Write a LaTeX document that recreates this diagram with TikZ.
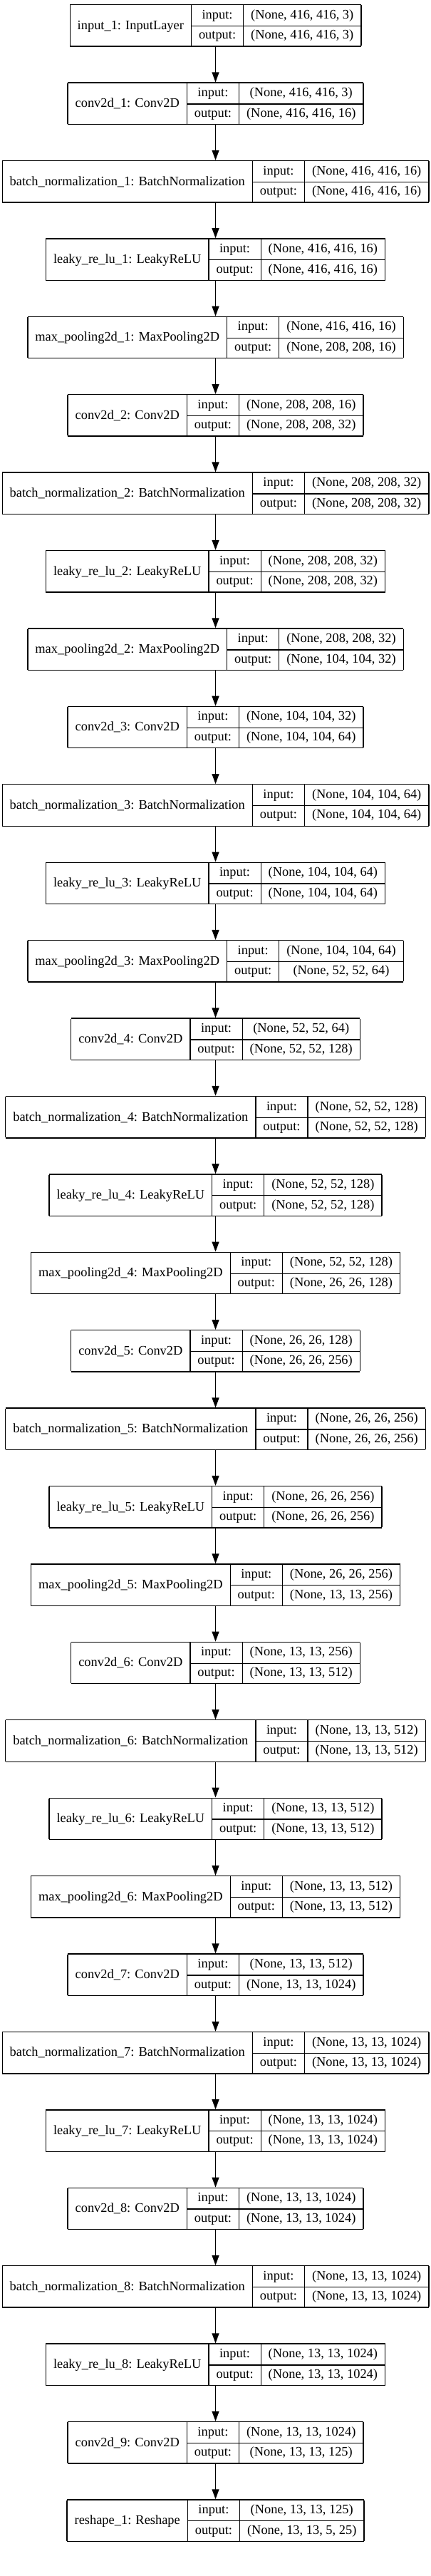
\documentclass[tikz,border=0pt]{standalone}
\usepackage{fontspec}
\setmainfont{Liberation Serif}
\usetikzlibrary{positioning,arrows.meta}

% table of one layer: name | input/output | shapes
\setlength\tabcolsep{7.9pt}
\setlength\arrayrulewidth{1pt}
\renewcommand\arraystretch{0.5}
\newcommand\rowstrut{\rule[-7.2pt]{0pt}{21.4pt}}
\newcommand\layer[3]{%
  \begin{tabular}{|c|c|c|}\hline
    \raisebox{-11.2pt}[0pt][0pt]{#1} & \rowstrut input: & #2 \\ \cline{2-3}
     & \rowstrut output: & #3 \\ \hline
  \end{tabular}}

\tikzset{
  layer/.style={inner sep=0pt, outer sep=0pt, font=\fontsize{13.8pt}{16pt}\selectfont},
  arrow/.style={line width=1pt, -{Triangle[length=10.5pt,width=7.5pt]}},
}

\begin{document}
\begin{tikzpicture}[node distance=37.26pt]

  \path[fill=white] (0,0) rectangle (453.75pt,-2711.25pt);

  % Define nodes
  \node[layer, anchor=north] (l1) at (226.9pt,-4.5pt) {\layer{input\_1: InputLayer}{(None, 416, 416, 3)}{(None, 416, 416, 3)}};
  \node[layer, below=of l1]  (l2)  {\layer{conv2d\_1: Conv2D}{(None, 416, 416, 3)}{(None, 416, 416, 16)}};
  \node[layer, below=of l2]  (l3)  {\layer{batch\_normalization\_1: BatchNormalization}{(None, 416, 416, 16)}{(None, 416, 416, 16)}};
  \node[layer, below=of l3]  (l4)  {\layer{leaky\_re\_lu\_1: LeakyReLU}{(None, 416, 416, 16)}{(None, 416, 416, 16)}};
  \node[layer, below=of l4]  (l5)  {\layer{max\_pooling2d\_1: MaxPooling2D}{(None, 416, 416, 16)}{(None, 208, 208, 16)}};
  \node[layer, below=of l5]  (l6)  {\layer{conv2d\_2: Conv2D}{(None, 208, 208, 16)}{(None, 208, 208, 32)}};
  \node[layer, below=of l6]  (l7)  {\layer{batch\_normalization\_2: BatchNormalization}{(None, 208, 208, 32)}{(None, 208, 208, 32)}};
  \node[layer, below=of l7]  (l8)  {\layer{leaky\_re\_lu\_2: LeakyReLU}{(None, 208, 208, 32)}{(None, 208, 208, 32)}};
  \node[layer, below=of l8]  (l9)  {\layer{max\_pooling2d\_2: MaxPooling2D}{(None, 208, 208, 32)}{(None, 104, 104, 32)}};
  \node[layer, below=of l9]  (l10) {\layer{conv2d\_3: Conv2D}{(None, 104, 104, 32)}{(None, 104, 104, 64)}};
  \node[layer, below=of l10] (l11) {\layer{batch\_normalization\_3: BatchNormalization}{(None, 104, 104, 64)}{(None, 104, 104, 64)}};
  \node[layer, below=of l11] (l12) {\layer{leaky\_re\_lu\_3: LeakyReLU}{(None, 104, 104, 64)}{(None, 104, 104, 64)}};
  \node[layer, below=of l12] (l13) {\layer{max\_pooling2d\_3: MaxPooling2D}{(None, 104, 104, 64)}{(None, 52, 52, 64)}};
  \node[layer, below=of l13] (l14) {\layer{conv2d\_4: Conv2D}{(None, 52, 52, 64)}{(None, 52, 52, 128)}};
  \node[layer, below=of l14] (l15) {\layer{batch\_normalization\_4: BatchNormalization}{(None, 52, 52, 128)}{(None, 52, 52, 128)}};
  \node[layer, below=of l15] (l16) {\layer{leaky\_re\_lu\_4: LeakyReLU}{(None, 52, 52, 128)}{(None, 52, 52, 128)}};
  \node[layer, below=of l16] (l17) {\layer{max\_pooling2d\_4: MaxPooling2D}{(None, 52, 52, 128)}{(None, 26, 26, 128)}};
  \node[layer, below=of l17] (l18) {\layer{conv2d\_5: Conv2D}{(None, 26, 26, 128)}{(None, 26, 26, 256)}};
  \node[layer, below=of l18] (l19) {\layer{batch\_normalization\_5: BatchNormalization}{(None, 26, 26, 256)}{(None, 26, 26, 256)}};
  \node[layer, below=of l19] (l20) {\layer{leaky\_re\_lu\_5: LeakyReLU}{(None, 26, 26, 256)}{(None, 26, 26, 256)}};
  \node[layer, below=of l20] (l21) {\layer{max\_pooling2d\_5: MaxPooling2D}{(None, 26, 26, 256)}{(None, 13, 13, 256)}};
  \node[layer, below=of l21] (l22) {\layer{conv2d\_6: Conv2D}{(None, 13, 13, 256)}{(None, 13, 13, 512)}};
  \node[layer, below=of l22] (l23) {\layer{batch\_normalization\_6: BatchNormalization}{(None, 13, 13, 512)}{(None, 13, 13, 512)}};
  \node[layer, below=of l23] (l24) {\layer{leaky\_re\_lu\_6: LeakyReLU}{(None, 13, 13, 512)}{(None, 13, 13, 512)}};
  \node[layer, below=of l24] (l25) {\layer{max\_pooling2d\_6: MaxPooling2D}{(None, 13, 13, 512)}{(None, 13, 13, 512)}};
  \node[layer, below=of l25] (l26) {\layer{conv2d\_7: Conv2D}{(None, 13, 13, 512)}{(None, 13, 13, 1024)}};
  \node[layer, below=of l26] (l27) {\layer{batch\_normalization\_7: BatchNormalization}{(None, 13, 13, 1024)}{(None, 13, 13, 1024)}};
  \node[layer, below=of l27] (l28) {\layer{leaky\_re\_lu\_7: LeakyReLU}{(None, 13, 13, 1024)}{(None, 13, 13, 1024)}};
  \node[layer, below=of l28] (l29) {\layer{conv2d\_8: Conv2D}{(None, 13, 13, 1024)}{(None, 13, 13, 1024)}};
  \node[layer, below=of l29] (l30) {\layer{batch\_normalization\_8: BatchNormalization}{(None, 13, 13, 1024)}{(None, 13, 13, 1024)}};
  \node[layer, below=of l30] (l31) {\layer{leaky\_re\_lu\_8: LeakyReLU}{(None, 13, 13, 1024)}{(None, 13, 13, 1024)}};
  \node[layer, below=of l31] (l32) {\layer{conv2d\_9: Conv2D}{(None, 13, 13, 1024)}{(None, 13, 13, 125)}};
  \node[layer, below=of l32] (l33) {\layer{reshape\_1: Reshape}{(None, 13, 13, 125)}{(None, 13, 13, 5, 25)}};

  % Connect the nodes
  \foreach \i [evaluate=\i as \j using int(\i+1)] in {1,...,32}
    \draw[arrow] (l\i) -- (l\j);
\end{tikzpicture}
\end{document}
